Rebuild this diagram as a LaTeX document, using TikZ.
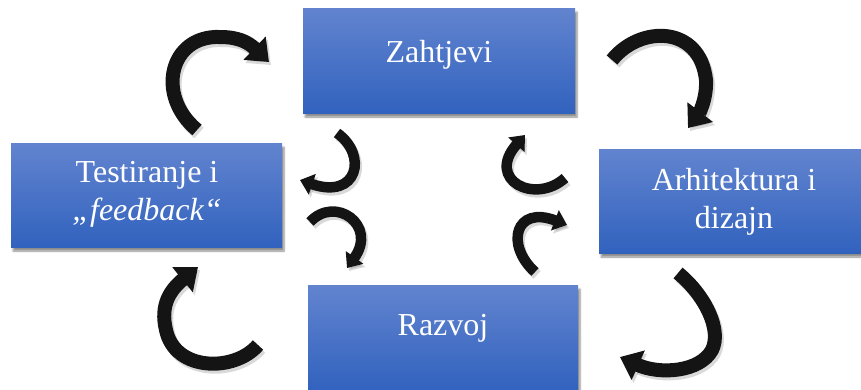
\documentclass[tikz,border=0pt]{standalone}
\usepackage{fontspec}
\setmainfont{Liberation Serif}
\usetikzlibrary{arrows.meta,shadows.blur}
\definecolor{boxtop}{RGB}{98,132,207}
\definecolor{boxbot}{RGB}{49,98,190}
\tikzset{
  phase/.style={top color=boxtop, bottom color=boxbot, draw=none,
    minimum width=272pt, minimum height=105pt, inner sep=0pt,
    blur shadow={shadow xshift=2pt, shadow yshift=-4pt, shadow blur steps=6, shadow opacity=45}},
  lbl/.style={text=white, font=\fontsize{32}{38}\selectfont, align=center, anchor=base, inner sep=0pt},
  bigarrow/.style={line width=14pt, -{Triangle[width=31pt,length=20pt]}, draw=black!92},
  smallarrow/.style={line width=10.5pt, -{Triangle[width=21pt,length=13pt]}, draw=black!92},
  arrowshadow/.style={draw=black, opacity=0.15, transform canvas={xshift=2pt,yshift=-3pt}},
}
\newcommand\ribbon[2]{\draw[#1,arrowshadow] #2; \draw[#1] #2;}
\begin{document}
\begin{tikzpicture}[x=1pt,y=-1pt]
\useasboundingbox (0,0) rectangle (861,389);
% boxes
\node[phase] (zah) at (439,60.5) {};
\node[phase, minimum width=271pt, minimum height=104pt] (tes) at (146.5,195) {};
\node[phase, minimum width=270pt, minimum height=104pt] (arh) at (734,201) {};
\node[phase, minimum width=270pt, minimum height=106pt] (raz) at (443,338) {};
% labels (base = baseline of the last line)
\node[lbl] (zahL) at (439,62) {Zahtjevi};
\node[lbl] (tesL) at (147,220) {Testiranje i\\\textit{„feedback“}};
\node[lbl] (arhL) at (734,228) {Arhitektura i\\dizajn};
\node[lbl] (razL) at (443,335) {Razvoj};
% arrow end points
\coordinate (a1s) at (197,130); \coordinate (a1e) at (269,62);
\coordinate (a2s) at (612,60);  \coordinate (a2e) at (688,128);
\coordinate (a3s) at (258,345); \coordinate (a3e) at (198,267);
\coordinate (a4s) at (678,273); \coordinate (a4e) at (620,357);
\coordinate (a5s) at (337,133); \coordinate (a5e) at (300,180);
\coordinate (a6s) at (310,222); \coordinate (a6e) at (347,268);
\coordinate (a7s) at (565,178); \coordinate (a7e) at (525,135);
\coordinate (a8s) at (535,272); \coordinate (a8e) at (567,225);
% big arrows
\ribbon{bigarrow}{(a1s) .. controls (155,95) and (170,35) .. (220,37) .. controls (238,37) and (248,42) .. (a1e)}
\ribbon{bigarrow}{(a2s) .. controls (640,25) and (700,25) .. (706,80) .. controls (707,100) and (698,115) .. (a2e)}
\ribbon{bigarrow}{(a3s) .. controls (235,372) and (175,372) .. (166,330) .. controls (160,305) and (170,290) .. (a3e)}
\ribbon{bigarrow}{(a4s) .. controls (705,295) and (722,330) .. (712,350) .. controls (700,372) and (660,375) .. (a4e)}
% small arrows
\ribbon{smallarrow}{(a5s) .. controls (368,155) and (358,200) .. (a5e)}
\ribbon{smallarrow}{(a6s) .. controls (335,195) and (378,225) .. (a6e)}
\ribbon{smallarrow}{(a7s) .. controls (535,205) and (485,180) .. (a7e)}
\ribbon{smallarrow}{(a8s) .. controls (505,245) and (515,205) .. (a8e)}
\end{tikzpicture}
\end{document}
